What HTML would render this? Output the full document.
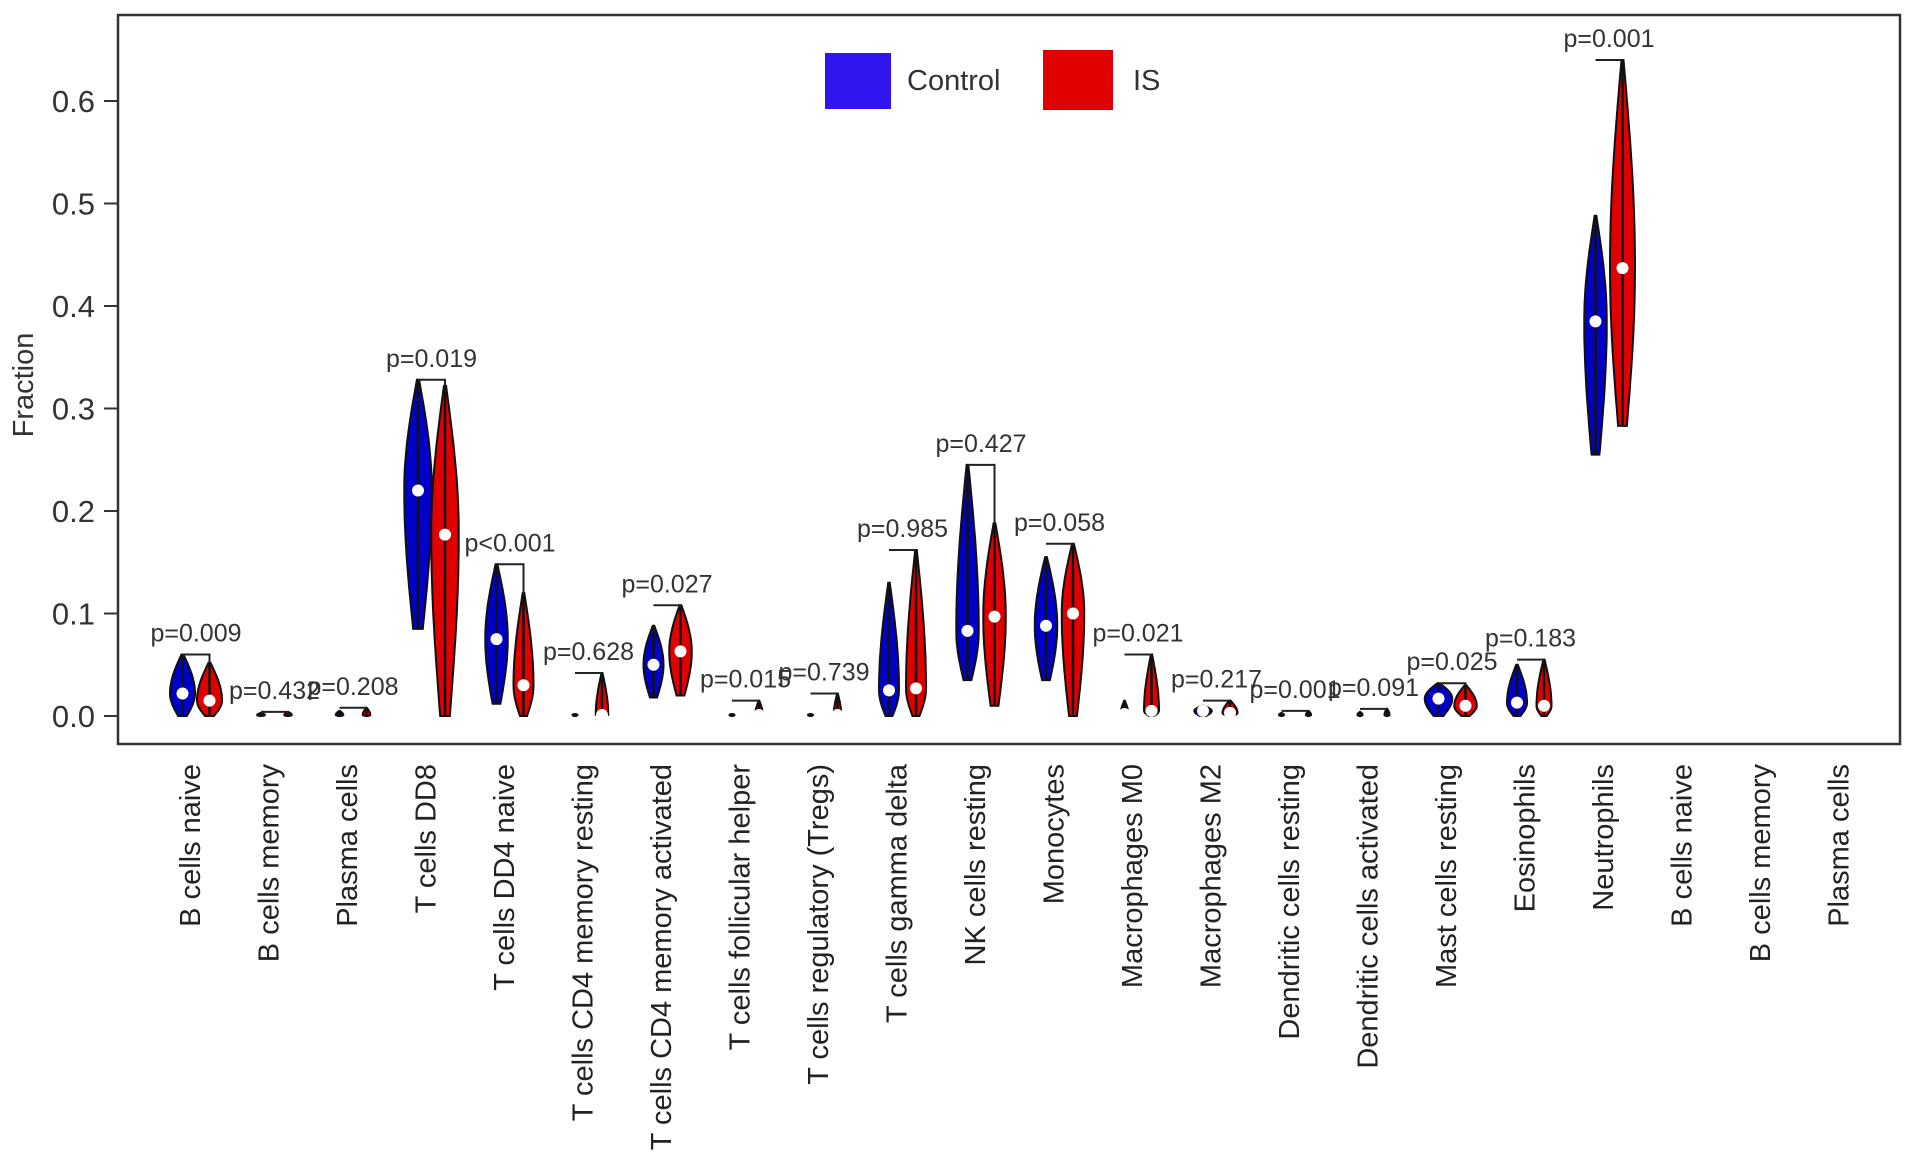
<!DOCTYPE html>
<html><head><meta charset="utf-8"><style>
html,body{margin:0;padding:0;background:#fff;}
svg{display:block;font-family:"Liberation Sans",Arial,sans-serif;}
</style></head><body>
<svg id="chart" width="1913" height="1168" viewBox="0 0 1913 1168" xmlns="http://www.w3.org/2000/svg"></svg>
<script>
const categories=["B cells naive","B cells memory","Plasma cells","T cells DD8","T cells DD4 naive","T cells CD4 memory resting","T cells CD4 memory activated","T cells follicular helper","T cells regulatory (Tregs)","T cells gamma delta","NK cells resting","Monocytes","Macrophages M0","Macrophages M2","Dendritic cells resting","Dendritic cells activated","Mast cells resting","Eosinophils","Neutrophils","B cells naive","B cells memory","Plasma cells"];
const ctrlMin=[0,0,0,0.085,0.012,0,0.018,0,0,0,0.035,0.035,0,0,0,0,0,0,0.255,null,null,null];
const ctrlMax=[0.06,0.003,0.005,0.328,0.148,0.002,0.088,0.002,0.002,0.13,0.245,0.155,0.015,0.01,0.003,0.004,0.032,0.05,0.488,null,null,null];
const ctrlMed=[0.022,0.001,0.001,0.22,0.075,0.001,0.05,0.001,0.001,0.025,0.083,0.088,0.002,0.005,0.001,0.001,0.017,0.013,0.385,null,null,null];
const ctrlSpread=[1,0.3,0.3,1.1,0.9,0.2,0.8,0.2,0.2,0.8,0.9,0.9,0.3,0.7,0.2,0.2,1.1,0.8,0.9,0,0,0];
const isMin=[0,0,0,0,0,0,0.02,0,0,0,0.01,0,0,0,0,0,0,0,0.283,null,null,null];
const isMax=[0.052,0.004,0.008,0.322,0.12,0.042,0.108,0.015,0.022,0.162,0.188,0.168,0.06,0.015,0.005,0.007,0.03,0.055,0.64,null,null,null];
const isMed=[0.015,0.001,0.001,0.177,0.03,0.001,0.063,0.001,0.001,0.027,0.097,0.1,0.005,0.003,0.001,0.001,0.01,0.01,0.437,null,null,null];
const isSpread=[1,0.3,0.3,1.1,0.8,0.5,0.9,0.3,0.3,0.8,0.9,0.9,0.6,0.6,0.2,0.2,0.9,0.6,1.0,0,0,0];
const pLabels=["p=0.009","p=0.432","p=0.208","p=0.019","p<0.001","p=0.628","p=0.027","p=0.015","p=0.739","p=0.985","p=0.427","p=0.058","p=0.021","p=0.217","p=0.001","p=0.091","p=0.025","p=0.183","p=0.001",null,null,null];
const yTicks=[0,0.1,0.2,0.3,0.4,0.5,0.6];
const yTickLabels=["0.0","0.1","0.2","0.3","0.4","0.5","0.6"];

const NS="http://www.w3.org/2000/svg";
const svg=document.getElementById('chart');
const L=118,T=15,R=1900,B=744;
const Y0=716,PER=1025;
const y=v=>Y0-v*PER;
const x=i=>196+i*78.5;
function mk(tag,attrs,parent){const e=document.createElementNS(NS,tag);for(const k in attrs)e.setAttribute(k,attrs[k]);(parent||svg).appendChild(e);return e;}

const frame=mk('rect',{x:L,y:T,width:R-L,height:B-T,fill:'none',stroke:'#333',"stroke-width":2.5});



const yAxis=mk('g',{});


yTicks.forEach((t,k)=>{
  mk('line',{x1:104,x2:L,y1:y(t),y2:y(t),stroke:'#333',"stroke-width":2},yAxis);
  const tx=mk('text',{x:95,y:y(t)+11,"text-anchor":"end","font-size":31,fill:'#333'},yAxis);
  tx.textContent=yTickLabels[k];
  
  
});
const yt=mk('text',{x:0,y:0,"text-anchor":"middle","font-size":29,fill:'#333',transform:'translate(33,385) rotate(-90)'});
yt.textContent='Fraction';



function violin(cx,mn,mx,md,sp,fill,name){
  if(mn===null)return;
  const g=mk('g',{});
  
  
  const W=12.5*sp;
  const n=40,left=[],right=[];
  for(let k=0;k<=n;k++){
    const v=mn+(mx-mn)*k/n;
    let w;
    if(v<=md){const f=md>mn?(v-mn)/(md-mn):1;w=W*(0.35+0.65*Math.sin(f*Math.PI/2));}
    else{const f=(v-md)/(mx-md);w=W*(0.08+0.92*Math.cos(f*Math.PI/2));}
    left.push([cx-w,y(v)]);right.push([cx+w,y(v)]);
  }
  const pts=left.concat(right.reverse()).map(p=>p[0].toFixed(1)+','+p[1].toFixed(1)).join(' ');
  mk('polygon',{points:pts,fill:fill,stroke:'#111',"stroke-width":2},g);
  mk('line',{x1:cx,x2:cx,y1:y(mn),y2:y(mx),stroke:'#111',"stroke-width":2.5},g);
  if(mx-mn>0.008) mk('circle',{cx:cx,cy:y(md),r:6,fill:'#fff'},g);
}

categories.forEach((c,i)=>{
  const cx=x(i);
  violin(cx-13.5,ctrlMin[i],ctrlMax[i],ctrlMed[i],ctrlSpread[i],'#0000c8','violin-control-'+i);
  violin(cx+13.5,isMin[i],isMax[i],isMed[i],isSpread[i],'#e00000','violin-is-'+i);
  if(pLabels[i]){
    const top=Math.max(ctrlMax[i],isMax[i]);
    const bk=mk('polyline',{points:`${cx-13.5},${y(top)} ${cx+13.5},${y(top)} ${cx+13.5},${y(isMax[i])}`,fill:'none',stroke:'#222',"stroke-width":2});
    
    
    const pt=mk('text',{x:cx,y:y(top)-13,"text-anchor":"middle","font-size":25,fill:'#333'});
    pt.textContent=pLabels[i];
    
    
  }
  const lb=mk('text',{x:0,y:0,"text-anchor":"end","font-size":29,fill:'#222',transform:`translate(${cx+4},764) rotate(-90)`});
  lb.textContent=c;
  
  
});

const lg=mk('g',{});


const lb1=mk('rect',{x:825,y:53,width:66,height:56,fill:'#3015f0'},lg);


const lt1=mk('text',{x:907,y:90,"font-size":29,fill:'#333'},lg);lt1.textContent='Control';


const lb2=mk('rect',{x:1043,y:50,width:70,height:60,fill:'#e00000'},lg);


const lt2=mk('text',{x:1133,y:90,"font-size":29,fill:'#333'},lg);lt2.textContent='IS';


</script>
</body></html>
